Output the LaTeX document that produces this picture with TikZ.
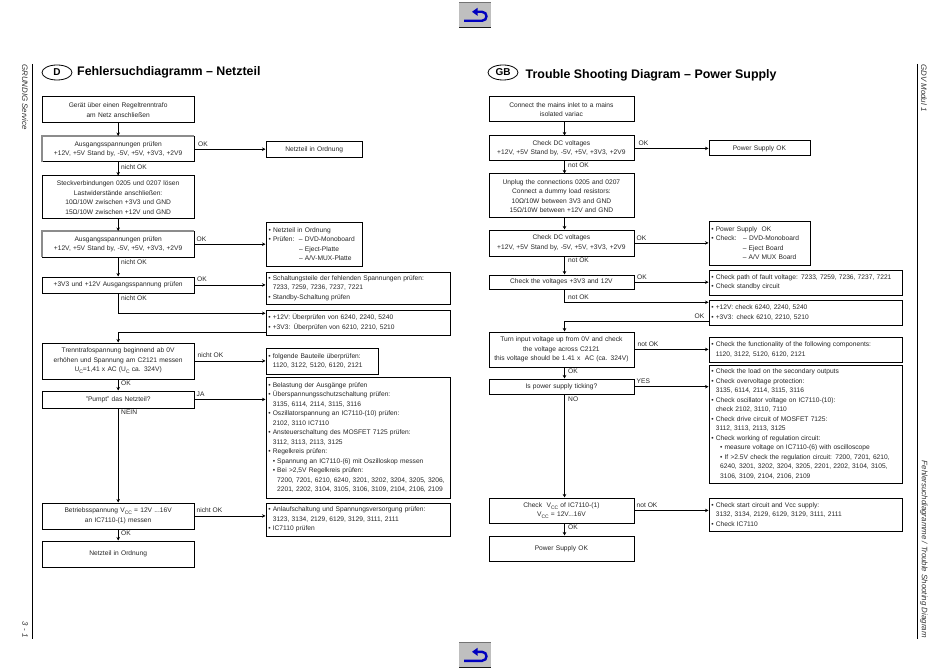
\documentclass[tikz,border=0pt]{standalone}
\usepackage{fontspec}
\setmainfont{Liberation Sans}
\usetikzlibrary{arrows.meta,calc,shapes.geometric}
\newcommand\bu{\makebox[4.4pt][l]{•}}
\newcommand\ct{\hspace*{4.4pt}}
\newcommand\sbs[1]{\raisebox{-2pt}{\fontsize{5}{5}\selectfont #1}}
\tikzset{
 txt/.style={font=\fontsize{6.65}{9.5}\selectfont, text=black!85},
 boxc/.style={draw=black, line width=0.8pt, anchor=north west, inner xsep=0.5pt, inner ysep=0pt, align=center, txt},
 boxl/.style={draw=black, line width=0.8pt, anchor=north west, inner xsep=2.5pt, inner ysep=0pt, align=left, txt},
 lab/.style={txt, anchor=west, inner sep=0pt},
 conn/.style={line width=0.8pt, -{Stealth[length=3.5pt,width=3.5pt]}},
 side/.style={font=\itshape\fontsize{7.9}{9}\selectfont, rotate=-90, inner sep=0pt, text=black!80},
 ttl/.style={font=\bfseries\fontsize{12.4}{14}\selectfont, anchor=west, inner sep=0pt},
 flag/.style={draw=black, line width=0.8pt, ellipse, minimum width=30pt, minimum height=15pt, inner sep=0pt, font=\bfseries\fontsize{10}{12}\selectfont},
 bar/.style={line width=0.9pt},
 shade/.style={line width=1.3pt, black!45},
}
\newcommand\backbtn[2]{%
 \begin{scope}[shift={(#1,#2)}]
 \fill[black!25] (0,0) rectangle (32,25);
 \draw[black!55, line width=0.8pt] (0,0) -- (32,0);
 \draw[black!90, line width=0.8pt] (0,25) -- (32,25);
 \draw[blue!75!black, line width=2.4pt] (5,18.5) -- (23,18.5) to[out=0,in=0,looseness=1.7] (23,9.5) -- (17,9.5);
 \fill[blue!75!black] (18.5,5.5) -- (13,9.5) -- (18.5,13.5) -- cycle;
 \end{scope}}
\begin{document}
\begin{tikzpicture}[x=1pt,y=-1pt]
\useasboundingbox (0,0) rectangle (950,671);
\fill[white] (0,0) rectangle (950,671);
\backbtn{459}{2.3}
\backbtn{459}{642.3}
\draw[bar] (32.5,64) -- (32.5,639);
\draw[bar] (917.5,64) -- (917.5,639);
\node[side, anchor=west] (s1) at (25,64) {GRUNDIG Service};
\node[side, anchor=east] (s2) at (25,638) {3 - 1};
\node[side, anchor=west] (s3) at (924,64) {GDV Modul 1};
\node[side, anchor=east] (s4) at (924,638) {Fehlersuchdiagramme / Trouble Shooting Diagram};
\node[flag] (fd) at (57,72.5) {D};
\node[ttl] (td) at (77,72) {Fehlersuchdiagramm – Netzteil};
\node[flag] (fg) at (503,72.5) {GB};
\node[ttl] (tg) at (525.5,75) {Trouble Shooting Diagram – Power Supply};
% left column
\newcommand\LB[5]{\node[boxc, minimum width=151.5pt, minimum height=#3-#2pt, text width=150pt] (#1) at (42,#2) {#4};}
\LB{a1}{96.5}{122.5}{Gerät über einen Regeltrenntrafo\\am Netz anschließen}{}
\LB{a2}{136}{161.5}{Ausgangsspannungen prüfen\\+12V, +5V Stand by, -5V, +5V, +3V3, +2V9}{}
\draw[shade] (a2.south west) -- (a2.north west) -- (a2.north east);
\LB{a3}{175.5}{218.5}{Steckverbindungen 0205 und 0207 lösen\\Lastwiderstände anschließen:\\10Ω/10W zwischen +3V3 und GND\\15Ω/10W zwischen +12V und GND}{}
\LB{a4}{231}{256.5}{Ausgangsspannungen prüfen\\+12V, +5V Stand by, -5V, +5V, +3V3, +2V9}{}
\draw[shade] (a4.south west) -- (a4.north west) -- (a4.north east);
\LB{a5}{276.5}{292.5}{+3V3 und +12V Ausgangsspannung prüfen}{}
\LB{a6}{342.5}{378.5}{Trenntrafospannung beginnend ab 0V\\erhöhen und Spannung am C2121 messen\\U\sbs{C}=1,41 x AC (U\sbs{C} ca. 324V)}{}
\LB{a7}{390.5}{407.5}{"Pumpt" das Netzteil?}{}
\LB{a8}{502.5}{528.5}{Betriebsspannung V\sbs{CC} = 12V ...16V\\an IC7110-(1) messen}{}
\LB{a9}{540.5}{566.5}{Netzteil in Ordnung}{}
% left results
\node[boxc, minimum width=96.5pt, minimum height=15.5pt, text width=95pt] (b2) at (265.5,141.5) {Netzteil in Ordnung};
\node[boxl, minimum width=96.5pt, minimum height=44.5pt, text width=91pt] (b4) at (265.5,221.5) {\bu Netzteil in Ordnung\\\bu Prüfen:\ \ – DVD-Monoboard\\\ct\hspace*{26pt}– Eject-Platte\\\ct\hspace*{26pt}– A/V-MUX-Platte};
\node[boxl, minimum width=184pt, minimum height=32.5pt, text width=179pt] (b5) at (265.5,271.5) {\bu Schaltungsteile der fehlenden Spannungen prüfen:\\\ct 7233, 7259, 7236, 7237, 7221\\\bu Standby-Schaltung prüfen};
\node[boxl, minimum width=184pt, minimum height=25.5pt, text width=179pt] (b6) at (265.5,309.5) {\bu +12V: Überprüfen von 6240, 2240, 5240\\\bu +3V3: Überprüfen von 6210, 2210, 5210};
\node[boxl, minimum width=112pt, minimum height=26pt, text width=107pt] (b7) at (265.5,347.5) {\bu folgende Bauteile überprüfen:\\\ct 1120, 3122, 5120, 6120, 2121};
\node[boxl, minimum width=184pt, minimum height=121pt, text width=179pt] (b8) at (265.5,376.5) {\bu Belastung der Ausgänge prüfen\\\bu Überspannungsschutzschaltung prüfen:\\\ct 3135, 6114, 2114, 3115, 3116\\\bu Oszillatorspannung an IC7110-(10) prüfen:\\\ct 2102, 3110 IC7110\\\bu Ansteuerschaltung des MOSFET 7125 prüfen:\\\ct 3112, 3113, 2113, 3125\\\bu Regelkreis prüfen:\\\ct\bu Spannung an IC7110-(6) mit Oszilloskop messen\\\ct\bu Bei >2,5V Regelkreis prüfen:\\\ct\ct 7200, 7201, 6210, 6240, 3201, 3202, 3204, 3205, 3206,\\\ct\ct 2201, 2202, 3104, 3105, 3106, 3109, 2104, 2106, 2109};
\node[boxl, minimum width=184pt, minimum height=33pt, text width=179pt] (b9) at (265.5,502.5) {\bu Anlaufschaltung und Spannungsversorgung prüfen:\\\ct 3123, 3134, 2129, 6129, 3129, 3111, 2111\\\bu IC7110 prüfen};
% left connectors
\foreach \p/\q in {a1/a2,a2/a3,a3/a4,a4/a5,a6/a7,a7/a8,a8/a9}{\draw[conn] (\p.south) -- (\q.north);}
\foreach \p/\q in {a2/b2,a4/b4,a5/b5,a6/b7,a7/b8,a8/b9}{\draw[conn] (\p.east) -- (\p.east -| \q.west);}
\coordinate (b6i) at ($(b6.north west)+(0,3.8)$);
\coordinate (b6o) at ($(b6.north west)+(0,22.8)$);
\draw[conn] (a5.south) |- (b6i);
\draw[conn] (b6o) -| (a6.north);
\node[lab] (l1) at (198,144.5) {OK};
\node[lab] (l2) at (121,167.5) {nicht OK};
\node[lab] (l3) at (196.5,239.5) {OK};
\node[lab] (l4) at (121,262.5) {nicht OK};
\node[lab] (l5) at (197,279.5) {OK};
\node[lab] (l6) at (121,298.5) {nicht OK};
\node[lab] (l7) at (197.5,355.5) {nicht OK};
\node[lab] (l8) at (121,383.5) {OK};
\node[lab] (l9) at (196.5,394.5) {JA};
\node[lab] (l10) at (121,412.5) {NEIN};
\node[lab] (l11) at (196.5,510.5) {nicht OK};
\node[lab] (l12) at (121,533.5) {OK};
% right column
\newcommand\RB[4]{\node[boxc, minimum width=145pt, minimum height=#3-#2pt, text width=144pt] (#1) at (488.5,#2) {#4};}
\RB{c1}{96.5}{121.5}{Connect the mains inlet to a mains\\isolated variac}
\RB{c2}{135.5}{160.5}{Check DC voltages\\+12V, +5V Stand by, -5V, +5V, +3V3, +2V9}
\RB{c3}{173.5}{217.5}{Unplug the connections 0205 and 0207\\Connect a dummy load resistors:\\10Ω/10W between 3V3 and GND\\15Ω/10W between +12V and GND}
\RB{c4}{229.5}{255.5}{Check DC voltages\\+12V, +5V Stand by, -5V, +5V, +3V3, +2V9}
\RB{c5}{274.5}{289}{Check the voltages +3V3 and 12V}
\RB{c6}{331.5}{366.5}{Turn input voltage up from 0V and check\\the voltage across C2121\\this voltage should be 1.41 x\ \ AC (ca. 324V)}
\RB{c7}{378.5}{394}{Is power supply ticking?}
\RB{c8}{497.5}{522.5}{Check\ \ V\sbs{CC} of IC7110-(1)\\V\sbs{CC} = 12V...16V}
\RB{c9}{535.5}{560.5}{Power Supply OK}
\node[boxc, minimum width=101pt, minimum height=15pt, text width=100pt] (d2) at (708.5,140.5) {Power Supply OK};
\node[boxl, minimum width=101pt, minimum height=44pt, text width=96pt] (d4) at (708.5,220.5) {\bu Power Supply\ \ OK\\\bu Check:\ \ \ – DVD-Monoboard\\\ct\hspace*{27pt}– Eject Board\\\ct\hspace*{27pt}– A/V MUX Board};
\node[boxl, minimum width=193pt, minimum height=25pt, text width=188pt] (d5) at (708.5,269.5) {\bu Check path of fault voltage: 7233, 7259, 7236, 7237, 7221\\\bu Check standby circuit};
\node[boxl, minimum width=193pt, minimum height=25pt, text width=188pt] (d6) at (708.5,299.5) {\bu +12V: check 6240, 2240, 5240\\\bu +3V3: check 6210, 2210, 5210};
\node[boxl, minimum width=193pt, minimum height=25pt, text width=188pt] (d7) at (708.5,336.5) {\bu Check the functionality of the following components:\\\ct 1120, 3122, 5120, 6120, 2121};
\node[boxl, minimum width=193pt, minimum height=118pt, text width=188pt] (d8) at (708.5,364.5) {\bu Check the load on the secondary outputs\\\bu Check overvoltage protection:\\\ct 3135, 6114, 2114, 3115, 3116\\\bu Check oscillator voltage on IC7110-(10):\\\ct check 2102, 3110, 7110\\\bu Check drive circuit of MOSFET 7125:\\\ct 3112, 3113, 2113, 3125\\\bu Check working of regulation circuit:\\\ct\ \ \bu measure voltage on IC7110-(6) with oscilloscope\\\ct\ \ \bu If >2.5V check the regulation circuit: 7200, 7201, 6210,\\\ct\ct 6240, 3201, 3202, 3204, 3205, 2201, 2202, 3104, 3105,\\\ct\ct 3106, 3109, 2104, 2106, 2109};
\node[boxl, minimum width=193pt, minimum height=33pt, text width=188pt] (d9) at (708.5,497.5) {\bu Check start circuit and Vcc supply:\\\ct 3132, 3134, 2129, 6129, 3129, 3111, 2111\\\bu Check IC7110};
\coordinate (rs) at (564.5,0);
\foreach \p/\q in {c1/c2,c2/c3,c3/c4,c4/c5,c6/c7,c7/c8,c8/c9}{\draw[conn] (\p.south -| rs) -- (\q.north -| rs);}
\foreach \p/\q in {c2/d2,c4/d4,c5/d5,c6/d7,c7/d8,c8/d9}{\draw[conn] (\p.east) -- (\p.east -| \q.west);}
\coordinate (d6i) at ($(d6.north west)+(0,2.8)$);
\coordinate (d6o) at ($(d6.north west)+(0,21.8)$);
\draw[conn] (c5.south -| rs) |- (d6i);
\draw[conn] (d6o) -| (c6.north -| rs);
\node[lab] (m1) at (638.5,143.5) {OK};
\node[lab] (m2) at (568,165.5) {not OK};
\node[lab] (m3) at (636.5,238.5) {OK};
\node[lab] (m4) at (568,260.5) {not OK};
\node[lab] (m5) at (637,277.5) {OK};
\node[lab] (m6) at (568,297.5) {not OK};
\node[lab] (m7) at (694.5,316.5) {OK};
\node[lab] (m8) at (637.5,344.5) {not OK};
\node[lab] (m9) at (568,371.5) {OK};
\node[lab] (m10) at (636.5,381.5) {YES};
\node[lab] (m11) at (568,399.5) {NO};
\node[lab] (m12) at (636.5,505.5) {not OK};
\node[lab] (m13) at (568,527.5) {OK};
\end{tikzpicture}
\end{document}
